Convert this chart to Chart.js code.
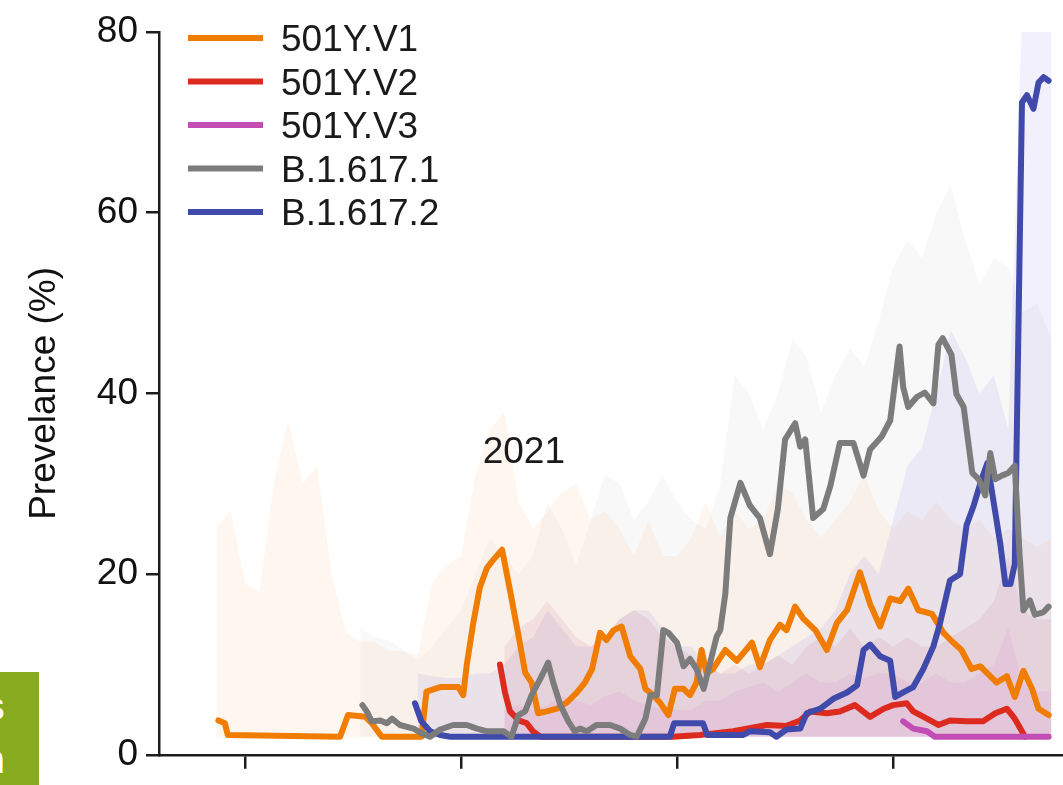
<!DOCTYPE html>
<html>
<head>
<meta charset="utf-8">
<title>Variant prevalence</title>
<script src="https://cdn.jsdelivr.net/npm/chart.js@4.4.1/dist/chart.umd.min.js"></script>
<style>
  html, body { margin: 0; padding: 0; background: #fff; }
  #wrap { position: relative; width: 1063px; height: 785px; overflow: hidden; }
  #chart { position: absolute; left: 0; top: 0; }
  .tab { position: absolute; left: 0; top: 672px; width: 39px; height: 113px; background: #87aa1f; overflow: hidden; }
  .tab span { position: absolute; right: 34px; color: #fff; font: bold 40px 'Liberation Sans', Arial, sans-serif; line-height: 40px; }
</style>
</head>
<body>
<div id="wrap">
  <canvas id="chart" width="1063" height="785"></canvas>
  <div class="tab"><span style="top:14px">s</span><span style="top:67px">n</span></div>
</div>
<script>
// series names and colours
const seriesNames = ['501Y.V1', '501Y.V2', '501Y.V3', 'B.1.617.1', 'B.1.617.2'];
const seriesColors = ['#f07c00', '#dd2a1f', '#c24db5', '#7c7c7c', '#3f4aab'];

// day axis: ticks every 30 days, no labels
const dayTicks = [0, 30, 60, 90];
const yTickStep = 20;

// 501Y.V1
const v1Days = [-3.7,-2.8,-2.4,13.2,14.3,16.7,17.6,19.0,24.5,25.2,27.1,29.6,30.3,30.8,31.7,32.6,33.6,34.5,35.7,36.8,38.0,38.9,39.8,40.7,41.9,43.3,44.7,46.1,47.2,48.2,49.3,50.2,51.2,52.3,53.5,54.9,55.6,56.7,57.6,58.8,59.7,60.9,61.8,62.7,63.4,64.1,65.0,66.7,68.3,70.4,71.5,72.9,74.3,75.2,76.4,77.5,79.2,80.8,82.2,83.6,85.4,86.8,88.2,89.6,91.0,92.1,93.5,95.4,97.0,98.4,99.5,100.9,102.1,103.0,104.4,105.8,106.9,108.1,109.3,110.2,111.6];
const v1Vals = [3.8,3.5,2.2,2.0,4.4,4.2,3.5,2.0,2.0,7.0,7.5,7.5,6.6,10.0,14.6,18.5,20.7,21.6,22.7,18.2,13.1,9.1,8.0,4.6,4.8,5.1,5.8,6.9,8.0,9.5,13.5,12.7,13.8,14.2,10.9,9.5,7.3,6.6,5.8,4.4,7.3,7.3,6.6,8.0,11.6,9.0,9.5,11.6,10.4,12.4,9.7,12.7,14.4,13.8,16.4,15.1,13.8,11.6,14.6,16.0,20.2,16.7,14.2,17.3,17.0,18.4,16.0,15.6,13.5,12.4,11.6,9.5,9.8,9.1,8.0,8.7,6.4,9.3,7.3,5.1,4.4];

// 501Y.V2
const v2Days = [35.4,36.1,36.8,38.0,39.1,40.0,41.0,59.4,63.2,67.8,72.5,75.2,77.1,78.5,80.8,82.6,84.7,86.8,88.7,90.0,91.9,92.8,94.7,96.3,97.9,100.2,102.5,104.2,105.8,106.9,107.9,108.3];
const v2Vals = [10.0,6.9,4.8,3.8,3.5,2.6,2.0,2.0,2.2,2.6,3.3,3.2,3.8,4.8,4.6,4.8,5.5,4.2,5.1,5.5,5.7,4.8,4.0,3.3,3.8,3.7,3.7,4.6,5.1,4.0,2.6,2.0];

// 501Y.V3
const v3Days = [91.4,92.8,94.7,95.8,111.6];
const v3Vals = [3.7,2.9,2.6,2.0,2.0];

// B.1.617.1
const d1Days = [16.3,16.9,17.6,18.8,19.7,20.4,21.5,23.4,24.5,25.7,27.1,28.9,30.8,32.2,33.6,35.9,37.0,38.0,38.9,39.8,41.0,42.1,42.8,43.8,44.9,45.8,46.5,47.5,48.8,50.7,52.1,53.5,54.4,55.6,56.3,57.2,58.1,58.8,60.0,60.9,61.8,62.7,63.7,64.6,65.5,66.0,66.7,67.4,68.8,70.1,71.5,72.9,74.0,75.0,76.4,77.1,77.8,78.9,80.3,81.3,82.6,84.5,85.9,86.8,88.4,89.6,90.3,90.9,91.4,92.1,93.3,94.4,95.6,96.3,96.9,98.1,98.8,99.8,101.0,101.9,102.8,103.5,104.2,105.1,106.0,106.9,107.6,108.1,109.0,109.7,110.9,111.6];
const d1Vals = [5.5,4.8,3.7,3.8,3.5,4.0,3.3,2.9,2.4,2.0,2.8,3.3,3.3,2.9,2.6,2.6,2.0,4.4,4.8,6.6,8.4,10.2,8.0,5.5,3.7,2.6,2.9,2.6,3.3,3.3,2.9,2.2,2.0,4.0,6.6,6.6,13.8,13.5,12.4,9.8,10.6,9.5,7.3,10.2,13.1,13.8,17.8,26.2,30.1,27.6,26.2,22.2,27.2,34.9,36.7,34.1,34.9,26.2,27.2,29.8,34.5,34.5,30.9,33.8,35.2,37.0,41.4,45.2,40.7,38.5,39.6,40.1,38.9,45.4,46.1,44.3,39.9,38.5,31.2,30.5,28.7,33.4,30.5,30.9,31.2,32.0,21.8,16.0,17.1,15.5,15.8,16.4];

// B.1.617.2
const d2Days = [23.6,24.5,25.7,27.1,28.5,59.0,59.6,61.8,63.6,64.2,69.2,70.1,72.9,73.8,75.2,77.1,78.0,79.9,81.7,83.6,85.0,85.9,86.8,88.2,89.6,90.3,91.4,92.8,94.2,95.6,96.5,97.9,99.3,100.2,101.2,102.3,103.1,103.9,104.9,105.6,106.3,106.9,107.9,108.6,109.5,110.2,110.9,111.6];
const d2Vals = [5.7,3.7,2.6,2.2,2.0,2.0,3.5,3.5,3.5,2.2,2.2,2.6,2.5,2.0,2.8,2.9,4.6,5.1,6.2,6.9,7.7,11.6,12.2,10.9,10.4,6.4,6.9,7.5,9.5,12.0,14.5,19.3,20.0,25.4,27.6,30.5,32.3,28.3,23.3,18.9,18.9,21.1,72.2,73.0,71.5,74.4,75.0,74.6];

// upper edge of the shaded uncertainty bands, every 2 days from day -4 to 112
const bandDays = [-4,-2,0,2,4,6,8,10,12,14,16,18,20,22,24,26,28,30,32,34,36,38,40,42,44,46,48,50,52,54,56,58,60,62,64,66,68,70,72,74,76,78,80,82,84,86,88,90,92,94,96,98,100,102,104,106,108,110,112];
const v1Band = [25,27,19,18,30,37,30,32,20,13.5,12.5,12.5,11.5,11.5,11,19,21,22,31,36,38,28,25,27,29,30,26,27,25,22,26,22,22,24,28,24,27,25,26,30,29,26,24,26,28,31,27,25,27,26,28,26,25,26,24,25,24,23,24];
const v2Band = [null,null,null,null,null,null,null,null,null,null,null,null,null,null,null,null,null,null,null,null,12,14,15,17,15,13,12,13,15,16,15,13,12,11,10,9,10,9,10,11,10,12,13,12,14,12,13,12,13,12,12,13,14,15,17,22,16,15,15];
const v3Band = [null,null,null,null,null,null,null,null,null,null,null,null,null,null,null,null,null,null,null,null,5,5.5,5,5.5,6.5,6,5.5,6.5,7,6,5.5,5,5,5,6,6,7,7.5,8,7,8,9,8,8,9,8.5,9,9,8,8,9,8,8,9,10,14,8,7,7];
const d1Band = [null,null,null,null,null,null,null,null,null,null,14,13,12.7,11.5,10.5,12,14,16,20,24,22,20,22,28,25,21,26,31,30,26,28,31,28,26,25,30,42,40,36,40,46,44,38,42,45,43,48,54,57,55,60,63,57,52,55,54,49,50,46];
const d2Band = [null,null,null,null,null,null,null,null,null,null,null,null,null,null,9,8.7,8.5,8.5,9,9,10,12,13,16,14,12,12,13,15,16,16,14,12,12,10,9,9,10,10,11,12,13,14,16,20,22,20,26,32,34,40,47,44,40,42,36,84,84,84];
const bandFloor = 2;

function points(days, vals) {
    return days.map((d, i) => ({ x: d, y: vals[i] }));
}

const lineDefaults = { borderWidth: 6, pointRadius: 0, tension: 0, fill: false, borderJoinStyle: 'round', borderCapStyle: 'round' };
const bandDefaults = { borderWidth: 0, pointRadius: 0, tension: 0, fill: { value: bandFloor } };

const datasets = [
    { label: seriesNames[3], data: points(d1Days, d1Vals), borderColor: seriesColors[3], order: 1 },
    { label: seriesNames[4], data: points(d2Days, d2Vals), borderColor: seriesColors[4], order: 2 },
    { label: seriesNames[0], data: points(v1Days, v1Vals), borderColor: seriesColors[0], order: 3 },
    { label: seriesNames[2], data: points(v3Days, v3Vals), borderColor: seriesColors[2], order: 4 },
    { label: seriesNames[1], data: points(v2Days, v2Vals), borderColor: seriesColors[1], order: 5 }
].map(ds => Object.assign({}, lineDefaults, ds)).concat([
    { label: 'v1 band', data: points(bandDays, v1Band), backgroundColor: 'rgba(255,160,80,0.09)', order: 24 },
    { label: 'd1 band', data: points(bandDays, d1Band), backgroundColor: 'rgba(150,150,150,0.07)', order: 23 },
    { label: 'd2 band', data: points(bandDays, d2Band), backgroundColor: 'rgba(120,110,230,0.10)', order: 22 },
    { label: 'v2 band', data: points(bandDays, v2Band), backgroundColor: 'rgba(200,80,120,0.11)', order: 21 },
    { label: 'v3 band', data: points(bandDays, v3Band), backgroundColor: 'rgba(210,110,220,0.11)', order: 20 }
].map(ds => Object.assign({}, bandDefaults, ds)));

const yearLabel = { text: '2021', day: 33.0, value: 32.3 };

// legend in the top-left corner plus the year note
const notesPlugin = {
    id: 'notes',
    afterDraw(chart) {
        const { ctx, chartArea, scales } = chart;
        ctx.save();
        ctx.font = "37px 'Liberation Sans', Arial, sans-serif";
        ctx.textAlign = 'left';
        ctx.textBaseline = 'alphabetic';
        seriesNames.forEach((name, i) => {
            const y = chartArea.top + 6 + i * 43.5;
            ctx.strokeStyle = seriesColors[i];
            ctx.lineWidth = 6;
            ctx.beginPath();
            ctx.moveTo(chartArea.left + 29, y);
            ctx.lineTo(chartArea.left + 104, y);
            ctx.stroke();
            ctx.fillStyle = '#1a1a1a';
            ctx.fillText(name, chartArea.left + 122, y + 13);
        });
        ctx.fillStyle = '#1a1a1a';
        ctx.fillText(yearLabel.text, scales.x.getPixelForValue(yearLabel.day), scales.y.getPixelForValue(yearLabel.value));
        ctx.restore();
    }
};

Chart.defaults.font.family = "'Liberation Sans', Arial, sans-serif";
Chart.defaults.color = '#111';

new Chart(document.getElementById('chart'), {
    type: 'line',
    data: { datasets: datasets },
    options: {
        responsive: false,
        animation: false,
        layout: { padding: { top: 32, right: 0, bottom: 0, left: 0 } },
        plugins: {
            legend: { display: false },
            tooltip: { enabled: false }
        },
        scales: {
            x: {
                type: 'linear',
                min: -11.95,
                max: 113.6,
                afterBuildTicks: axis => { axis.ticks = dayTicks.map(v => ({ value: v })); },
                ticks: { display: false },
                grid: { display: true, drawOnChartArea: false, drawTicks: true, tickLength: 14, color: '#1c1c1c', lineWidth: 2.5 },
                border: { display: true, color: '#1c1c1c', width: 2.5 },
                afterFit: axis => { axis.height = 18; }
            },
            y: {
                min: 0,
                max: 80,
                ticks: { stepSize: yTickStep, color: '#111', font: { size: 37 }, padding: 8 },
                grid: { display: true, drawOnChartArea: false, tickLength: 13, color: '#1c1c1c', lineWidth: 2.5 },
                border: { display: true, color: '#1c1c1c', width: 2.5 },
                title: { display: true, text: 'Prevelance (%)', color: '#111', font: { size: 37 }, padding: { top: 23, bottom: 0 } },
                afterFit: axis => { axis.width = 159; }
            }
        }
    },
    plugins: [notesPlugin]
});
</script>
</body>
</html>
